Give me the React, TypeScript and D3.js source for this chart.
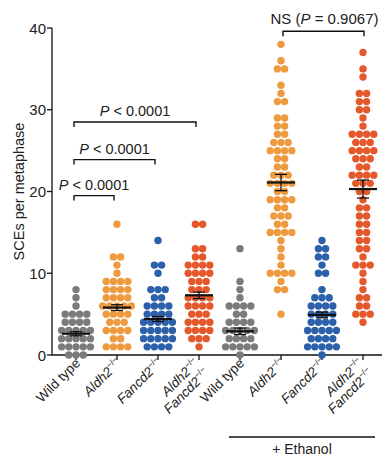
import React from "react";
import * as d3 from "d3";

// each group: [SCE count, number of metaphases with that count]
const wildType: [number, number][] = [[0,3],[1,5],[2,5],[3,5],[4,4],[5,4],[6,1],[7,1],[8,1]];
const aldh2: [number, number][] = [[1,4],[2,2],[3,4],[4,3],[5,4],[6,5],[7,4],[8,4],[9,4],[10,1],[11,1],[12,2],[16,1]];
const fancd2: [number, number][] = [[1,4],[2,5],[3,5],[4,5],[5,4],[6,4],[7,2],[8,3],[10,1],[11,2],[14,1]];
const double: [number, number][] = [[1,1],[2,3],[3,4],[4,4],[5,3],[6,4],[7,4],[8,3],[9,3],[10,4],[11,4],[12,2],[13,2],[16,2]];
const wildTypeEth: [number, number][] = [[0,1],[1,5],[2,4],[3,5],[4,4],[5,2],[6,4],[7,1],[8,1],[9,1],[13,1]];
const aldh2Eth: [number, number][] = [[5,1],[8,2],[9,1],[10,4],[11,1],[12,1],[13,1],[14,1],[15,4],[16,2],[17,3],[18,2],[19,4],[20,2],[21,4],[22,3],[23,2],[24,2],[25,4],[26,3],[27,2],[28,2],[29,2],[31,2],[32,1],[33,1],[35,2],[36,1],[38,1]];
const fancd2Eth: [number, number][] = [[0,1],[1,5],[2,4],[3,5],[4,4],[5,4],[6,4],[7,3],[8,1],[10,2],[11,1],[12,2],[13,2],[14,1]];
const doubleEth: [number, number][] = [[4,1],[5,3],[6,2],[7,2],[8,1],[9,1],[10,1],[11,3],[12,1],[13,2],[14,2],[15,2],[16,2],[17,2],[18,2],[19,1],[20,2],[21,3],[22,4],[23,2],[24,3],[25,4],[26,3],[27,4],[28,1],[29,1],[30,2],[31,2],[32,2],[34,1],[35,1],[37,1]];

const groupData = [wildType, aldh2, fancd2, double, wildTypeEth, aldh2Eth, fancd2Eth, doubleEth];
const groupIds = ["wt", "aldh2", "fancd2", "dko", "wtE", "aldh2E", "fancd2E", "dkoE"];
const labelTop = ["Wild type", "Aldh2", "Fancd2", "Aldh2", "Wild type", "Aldh2", "Fancd2", "Aldh2"];
const labelBottom = ["", "", "", "Fancd2", "", "", "", "Fancd2"];
const colors = ["#7b7b7d", "#ee9b40", "#2d60aa", "#e4582c", "#7b7b7d", "#ee9b40", "#2d60aa", "#e4582c"];
const means = [2.6, 5.8, 4.4, 7.3, 2.9, 21.1, 4.9, 20.3];
const sems = [0.25, 0.35, 0.3, 0.4, 0.4, 1.0, 0.35, 1.1];
const yTicks = [0, 10, 20, 30, 40];

const brackets = [
  { from: 0, to: 3, y: 28.5, text: "P < 0.0001" },
  { from: 0, to: 2, y: 23.9, text: "P < 0.0001" },
  { from: 0, to: 1, y: 19.5, text: "P < 0.0001" },
];
const nsBracket = { from: 5, to: 7, y: 39.6 };

const font = "'Liberation Sans', Arial, Helvetica, sans-serif";

export default function App() {
  const x = d3.scalePoint<string>().domain(groupIds).range([76, 363]);
  const y = d3.scaleLinear().domain([0, 40]).range([355, 28]);
  const r = 3.7;
  const step = 7.2;

  const dots: { cx: number; cy: number; c: string; k: string }[] = [];
  groupData.forEach((rows, gi) => {
    rows.forEach(([v, n]) => {
      for (let i = 0; i < n; i++) {
        dots.push({
          cx: (x(groupIds[gi]) as number) + (i - (n - 1) / 2) * step,
          cy: y(v),
          c: colors[gi],
          k: gi + "-" + v + "-" + i,
        });
      }
    });
  });

  const sup = (
    <tspan dy={-5.5} fontSize={8.5} fontStyle="normal">−/−</tspan>
  );

  return (
    <svg width={388} height={464} style={{ position: "absolute", left: 0, top: 0, background: "#fff" }} fontFamily={font}>
      {/* y axis */}
      <line x1={52} x2={52} y1={y(40)} y2={y(0)} stroke="#111" strokeWidth={1.3} />
      {yTicks.map((t) => (
        <g key={t}>
          <line x1={47} x2={52} y1={y(t)} y2={y(t)} stroke="#111" strokeWidth={1.3} />
          <text x={46} y={y(t) + 5.5} textAnchor="end" fontSize={15} fill="#222">{t}</text>
        </g>
      ))}
      <text transform={`translate(24,${(y(0) + y(40)) / 2 + 0}) rotate(-90)`} textAnchor="middle" fontSize={14.5} fill="#222">
        SCEs per metaphase
      </text>

      {/* x axis */}
      <line x1={52} x2={382} y1={y(0)} y2={y(0)} stroke="#111" strokeWidth={1.3} />
      {groupIds.map((g) => (
        <line key={g} x1={x(g)} x2={x(g)} y1={y(0)} y2={y(0) + 5} stroke="#111" strokeWidth={1.3} />
      ))}

      {/* dots */}
      {dots.map((d) => (
        <circle key={d.k} cx={d.cx} cy={d.cy} r={r} fill={d.c} />
      ))}

      {/* mean +- sem */}
      {groupIds.map((g, i) => {
        const cx = x(g) as number;
        return (
          <g key={g} stroke="#111" strokeWidth={1.8}>
            <line x1={cx - 14} x2={cx + 14} y1={y(means[i])} y2={y(means[i])} strokeWidth={2.2} />
            <line x1={cx} x2={cx} y1={y(means[i] - sems[i])} y2={y(means[i] + sems[i])} strokeWidth={1.3} />
            <line x1={cx - 6} x2={cx + 6} y1={y(means[i] - sems[i])} y2={y(means[i] - sems[i])} strokeWidth={1.3} />
            <line x1={cx - 6} x2={cx + 6} y1={y(means[i] + sems[i])} y2={y(means[i] + sems[i])} strokeWidth={1.3} />
          </g>
        );
      })}

      {/* significance brackets */}
      {brackets.map((b, i) => {
        const x1 = (x(groupIds[b.from]) as number) - 2;
        const x2 = (x(groupIds[b.to]) as number) - 3;
        const by = y(b.y);
        return (
          <g key={i}>
            <path d={`M${x1},${by + 5}V${by}H${x2}V${by + 5}`} fill="none" stroke="#111" strokeWidth={1.4} />
            <text x={(x1 + x2) / 2} y={by - 6} textAnchor="middle" fontSize={14.5} fill="#222">
              <tspan fontStyle="italic">P</tspan> &lt; 0.0001
            </text>
          </g>
        );
      })}
      {(() => {
        const x1 = (x(groupIds[nsBracket.from]) as number) + 2;
        const x2 = (x(groupIds[nsBracket.to]) as number) + 1;
        const by = y(nsBracket.y);
        return (
          <g>
            <path d={`M${x1},${by + 5}V${by}H${x2}V${by + 5}`} fill="none" stroke="#111" strokeWidth={1.4} />
            <text x={(x1 + x2) / 2 + 1} y={by - 7} textAnchor="middle" fontSize={15} fill="#222">
              NS (<tspan fontStyle="italic">P</tspan> = 0.9067)
            </text>
          </g>
        );
      })()}

      {/* category labels */}
      {groupIds.map((g, i) => {
        const cx = x(g) as number;
        const isItalic = labelTop[i] !== "Wild type";
        if (labelBottom[i]) {
          return (
            <g key={g} transform={`translate(${cx + 1},${y(0) + 9}) rotate(-45)`} fontSize={13.5} fill="#222">
              <text x={0} y={0} textAnchor="end">
                <tspan fontStyle="italic">{labelTop[i]}</tspan>{sup}
              </text>
              <text x={0} y={14} textAnchor="end">
                <tspan fontStyle="italic">{labelBottom[i]}</tspan>{sup}
              </text>
            </g>
          );
        }
        return (
          <g key={g} transform={`translate(${cx + 5},${y(0) + 9}) rotate(-45)`} fontSize={13.5} fill="#222">
            <text x={0} y={0} textAnchor="end">
              <tspan fontStyle={isItalic ? "italic" : "normal"}>{labelTop[i]}</tspan>
              {isItalic ? sup : null}
            </text>
          </g>
        );
      })}

      {/* ethanol annotation */}
      <line x1={229} x2={375} y1={437} y2={437} stroke="#111" strokeWidth={1.4} />
      <text x={302} y={454} textAnchor="middle" fontSize={14} fill="#222">+ Ethanol</text>
    </svg>
  );
}
